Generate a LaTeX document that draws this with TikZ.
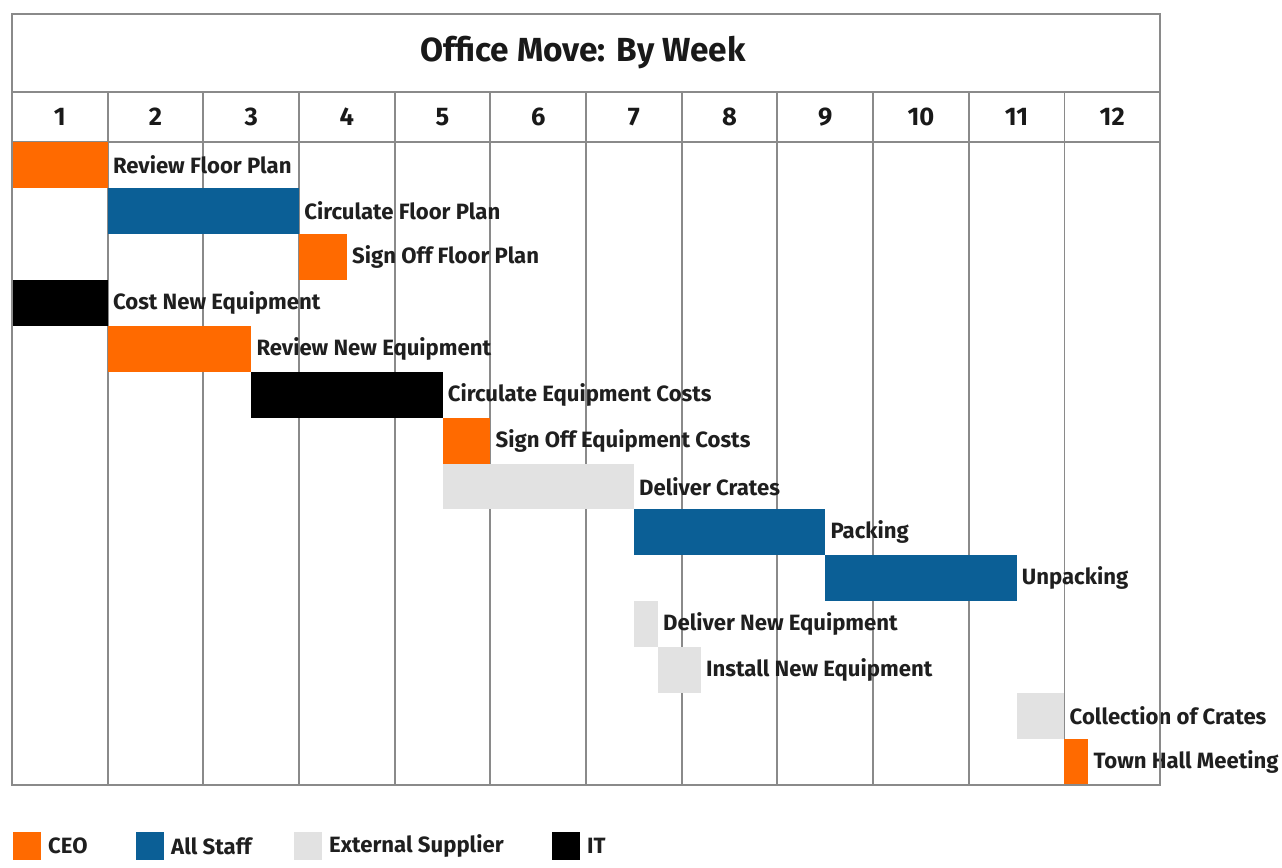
\documentclass[tikz,border=0pt]{standalone}
\usepackage{fontspec}
\setmainfont{Fira Sans}
\usetikzlibrary{positioning}
\definecolor{ceo}{HTML}{FF6A00}
\definecolor{staff}{HTML}{0B5F96}
\definecolor{supplier}{HTML}{E2E2E2}
\definecolor{itblack}{HTML}{000000}
\definecolor{linegray}{HTML}{8A8A8A}

\begin{document}
\begin{tikzpicture}[x=0.2mm, y=-0.2mm,
    gridline/.style={draw=linegray, line width=1pt},
    bar/.style={fill=#1, inner sep=0pt, outer sep=0pt, minimum height=9.186mm, anchor=north west},
    task/.style={font=\bfseries\fontsize{12.6}{14}\selectfont, inner sep=0pt, text=black!88},
    week/.style={font=\bfseries\fontsize{14.5}{16}\selectfont, text=black!90},
    legendbox/.style={fill=#1, inner sep=0pt, minimum width=5.6mm, minimum height=5.6mm}]
  \useasboundingbox (0,0) rectangle (1282,867);

  % grid
  \draw[gridline] (12,92) -- (1160,92);
  \draw[gridline] (12,142) -- (1160,142);
  \foreach \k in {1,...,11}
    \draw[gridline] ({12+\k*95.67},92) -- ({12+\k*95.67},785);
  \foreach \k in {1,...,12}
    \node[week] (w\k) at ({12+(\k-0.5)*95.67},117) {\k};
  \node[font=\bfseries\fontsize{19}{22}\selectfont, text=black!90] (title) at (583,53) {Office Move: By Week};

  % tasks: row / start week / end week / colour / text
  \foreach \i/\a/\b/\c/\t in {
      1/0/1/ceo/Review Floor Plan,
      2/1/3/staff/Circulate Floor Plan,
      3/3/3.5/ceo/Sign Off Floor Plan,
      4/0/1/itblack/Cost New Equipment,
      5/1/2.5/ceo/Review New Equipment,
      6/2.5/4.5/itblack/Circulate Equipment Costs,
      7/4.5/5/ceo/Sign Off Equipment Costs,
      8/4.5/6.5/supplier/Deliver Crates,
      9/6.5/8.5/staff/Packing,
      10/8.5/10.5/staff/Unpacking,
      11/6.5/6.75/supplier/Deliver New Equipment,
      12/6.75/7.2/supplier/Install New Equipment,
      13/10.5/11/supplier/Collection of Crates,
      14/11/11.25/ceo/Town Hall Meeting}
  {
    \pgfmathsetmacro\barw{(\b-\a)*95.67*0.2}
    \node[bar=\c, minimum width=\barw mm] (bar\i) at ({12+\a*95.67},{142+(\i-1)*45.93}) {};
    \node[task, right=1mm of bar\i] (task\i) {\t};
  }
  \draw[gridline] (12,14) rectangle (1160,785);

  % legend
  \node[legendbox=ceo] (lceo) at (27,846) {};
  \node[task, right=1.3mm of lceo] (tceo) {CEO};
  \node[legendbox=staff] (lstaff) at (150,846) {};
  \node[task, right=1.3mm of lstaff] (tstaff) {All Staff};
  \node[legendbox=supplier] (lsupplier) at (308,846) {};
  \node[task, right=1.3mm of lsupplier] (tsupplier) {External Supplier};
  \node[legendbox=itblack] (lit) at (566,846) {};
  \node[task, right=1.3mm of lit] (tit) {IT};
\end{tikzpicture}
\end{document}
